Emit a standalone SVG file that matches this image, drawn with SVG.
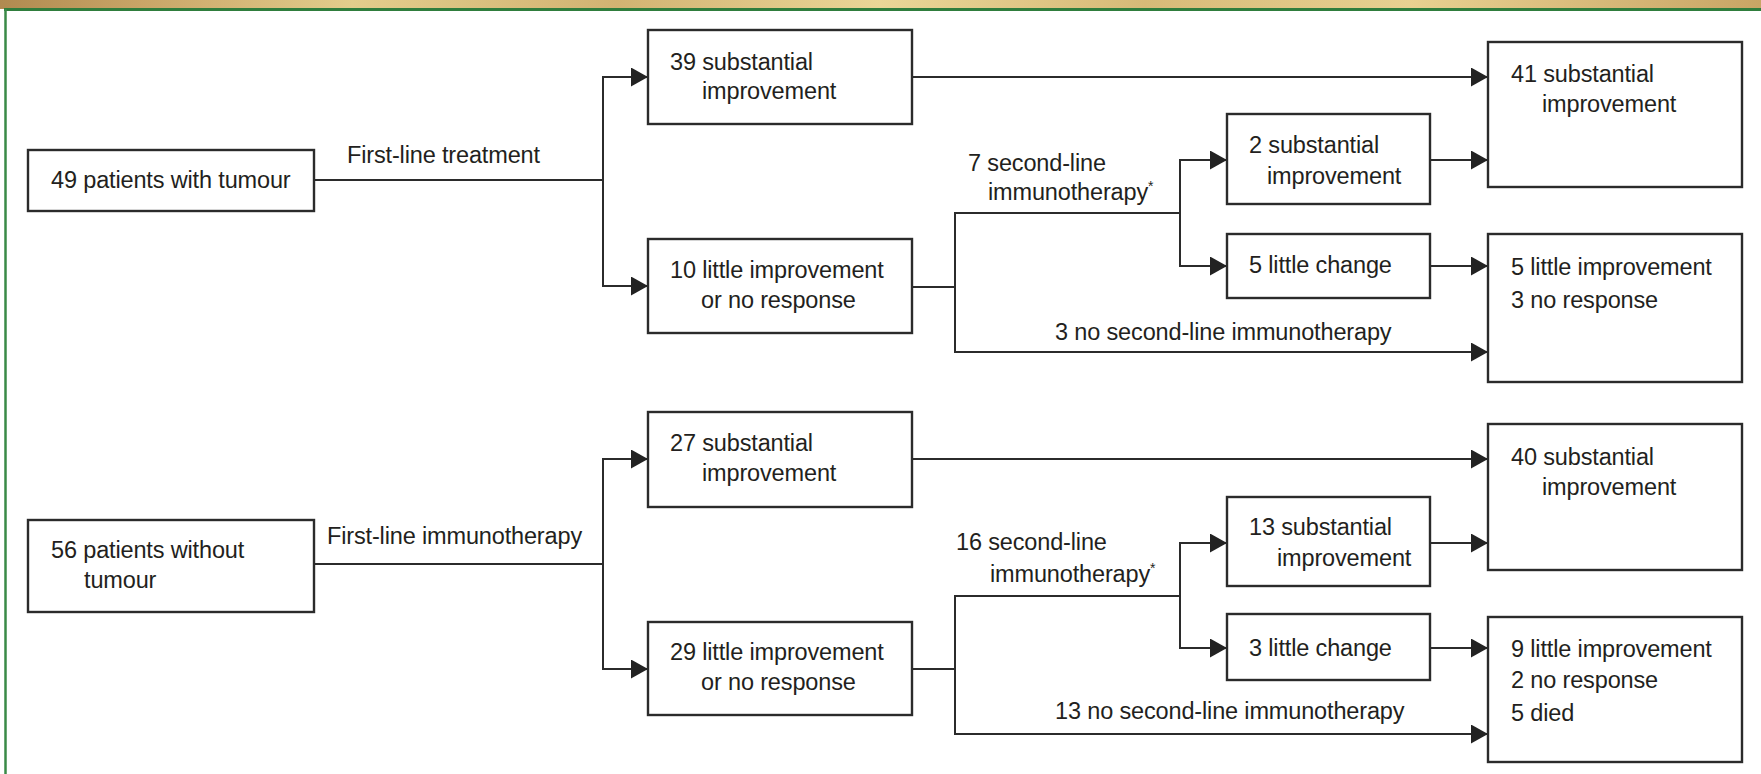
<svg xmlns="http://www.w3.org/2000/svg" width="1761" height="774" viewBox="0 0 1761 774">
<defs>
  <linearGradient id="band" x1="0" y1="0" x2="1" y2="0">
    <stop offset="0" stop-color="#b08a50"/>
    <stop offset="0.08" stop-color="#c9a567"/>
    <stop offset="0.2" stop-color="#e3cd8c"/>
    <stop offset="0.35" stop-color="#d2b372"/>
    <stop offset="0.5" stop-color="#ead697"/>
    <stop offset="0.65" stop-color="#d7ba78"/>
    <stop offset="0.8" stop-color="#e8d191"/>
    <stop offset="1" stop-color="#c9a565"/>
  </linearGradient>
  <marker id="arr" markerUnits="userSpaceOnUse" markerWidth="17" markerHeight="19" refX="17" refY="9.5" orient="auto">
    <path d="M0,0 L17,9.5 L0,19 Z" fill="#222"/>
  </marker>
</defs>
<style>
  .box{fill:#fff;stroke:#2b2b2b;stroke-width:2.4}
  .c{fill:none;stroke:#2b2b2b;stroke-width:2}
  .a{marker-end:url(#arr)}
  text{font-family:"Liberation Sans",Arial,sans-serif;font-size:23.5px;fill:#231f20;letter-spacing:-0.15px}
  .ast{font-size:14px}
</style>
<rect x="0" y="0" width="1761" height="774" fill="#fff"/>
<g id="frame">
  <rect x="0" y="0" width="1761" height="9" fill="url(#band)"/>
  <line x1="4" y1="9.5" x2="1761" y2="9.5" stroke="#2f7d3d" stroke-width="3"/>
  <line x1="5.5" y1="9" x2="5.5" y2="774" stroke="#3a8a47" stroke-width="2.5"/>
</g>
<g id="connectors">
  <path class="c" d="M314,180 H603"/>
  <path class="c a" d="M603,180 V77 H648"/>
  <path class="c a" d="M603,180 V286 H648"/>
  <path class="c a" d="M912,77 H1488"/>
  <path class="c" d="M912,287 H955"/>
  <path class="c a" d="M955,287 V213 H1180 V160 H1227"/>
  <path class="c a" d="M1180,213 V266 H1227"/>
  <path class="c a" d="M955,287 V352 H1488"/>
  <path class="c a" d="M1430,160 H1488"/>
  <path class="c a" d="M1430,266 H1488"/>
  <text x="347" y="163">First-line treatment</text>
  <text x="968" y="171">7 second-line</text>
  <text x="988" y="200">immunotherapy<tspan class="ast" dy="-9">*</tspan></text>
  <text x="1055" y="340">3 no second-line immunotherapy</text>

  <path class="c" d="M314,564 H603"/>
  <path class="c a" d="M603,564 V459 H648"/>
  <path class="c a" d="M603,564 V669 H648"/>
  <path class="c a" d="M912,459 H1488"/>
  <path class="c" d="M912,669 H955"/>
  <path class="c a" d="M955,669 V596 H1180 V543 H1227"/>
  <path class="c a" d="M1180,596 V648 H1227"/>
  <path class="c a" d="M955,669 V734 H1488"/>
  <path class="c a" d="M1430,543 H1488"/>
  <path class="c a" d="M1430,648 H1488"/>
  <text x="327" y="544">First-line immunotherapy</text>
  <text x="956" y="550">16 second-line</text>
  <text x="990" y="582">immunotherapy<tspan class="ast" dy="-9">*</tspan></text>
  <text x="1055" y="719">13 no second-line immunotherapy</text>
</g>

<g id="n49">
  <rect class="box" x="28" y="150" width="286" height="61"/>
  <text x="51" y="188">49 patients with tumour</text>
</g>
<g id="n39">
  <rect class="box" x="648" y="30" width="264" height="94"/>
  <text x="670" y="70">39 substantial</text>
  <text x="702" y="99">improvement</text>
</g>
<g id="n10">
  <rect class="box" x="648" y="239" width="264" height="94"/>
  <text x="670" y="278">10 little improvement</text>
  <text x="701" y="308">or no response</text>
</g>
<g id="n41">
  <rect class="box" x="1488" y="42" width="254" height="145"/>
  <text x="1511" y="82">41 substantial</text>
  <text x="1542" y="112">improvement</text>
</g>
<g id="n2">
  <rect class="box" x="1227" y="114" width="203" height="90"/>
  <text x="1249" y="153">2 substantial</text>
  <text x="1267" y="184">improvement</text>
</g>
<g id="n5c">
  <rect class="box" x="1227" y="234" width="203" height="64"/>
  <text x="1249" y="273">5 little change</text>
</g>
<g id="n5i">
  <rect class="box" x="1488" y="234" width="254" height="148"/>
  <text x="1511" y="275">5 little improvement</text>
  <text x="1511" y="308">3 no response</text>
</g>

<g id="n56">
  <rect class="box" x="28" y="520" width="286" height="92"/>
  <text x="51" y="558">56 patients without</text>
  <text x="84" y="588">tumour</text>
</g>
<g id="n27">
  <rect class="box" x="648" y="412" width="264" height="95"/>
  <text x="670" y="451">27 substantial</text>
  <text x="702" y="481">improvement</text>
</g>
<g id="n29">
  <rect class="box" x="648" y="622" width="264" height="93"/>
  <text x="670" y="660">29 little improvement</text>
  <text x="701" y="690">or no response</text>
</g>
<g id="n40">
  <rect class="box" x="1488" y="424" width="254" height="146"/>
  <text x="1511" y="465">40 substantial</text>
  <text x="1542" y="495">improvement</text>
</g>
<g id="n13">
  <rect class="box" x="1227" y="497" width="203" height="89"/>
  <text x="1249" y="535">13 substantial</text>
  <text x="1277" y="566">improvement</text>
</g>
<g id="n3c">
  <rect class="box" x="1227" y="614" width="203" height="66"/>
  <text x="1249" y="656">3 little change</text>
</g>
<g id="n9">
  <rect class="box" x="1488" y="617" width="254" height="145"/>
  <text x="1511" y="657">9 little improvement</text>
  <text x="1511" y="688">2 no response</text>
  <text x="1511" y="721">5 died</text>
</g>
</svg>
